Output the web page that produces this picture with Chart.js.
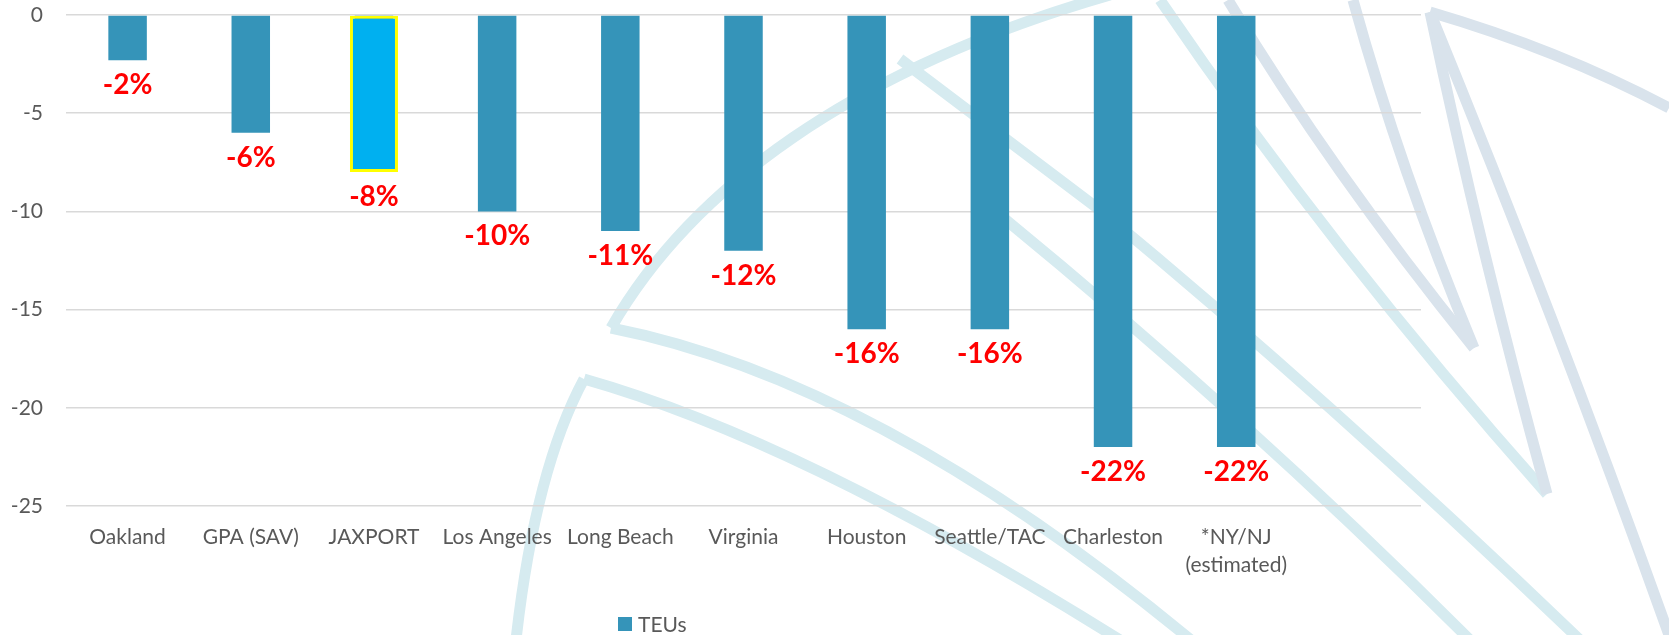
<!DOCTYPE html>
<html>
<head>
<meta charset="utf-8">
<script src="https://cdn.jsdelivr.net/npm/chart.js@4/dist/chart.umd.min.js"></script>
<style>
  body { margin: 0; background: #fff; }
  #wrap { position: relative; width: 1669px; height: 635px; }
  #legend { position: absolute; left: 618px; top: 611px; font: 21px Lato, sans-serif; color: #595959; display: flex; align-items: center; }
  #legend span.box { display: inline-block; width: 14px; height: 14px; background: #3594b9; margin-right: 6px; }
</style>
</head>
<body>
<div id="wrap">
  <canvas id="teuChart"></canvas>
  <div id="legend"><span class="box"></span><span>TEUs</span></div>
</div>
<script>
// Ports (the last slot is left empty, as in the original sheet)
const ports = ['Oakland', 'GPA (SAV)', 'JAXPORT', 'Los Angeles', 'Long Beach', 'Virginia',
               'Houston', 'Seattle/TAC', 'Charleston', ['*NY/NJ', '(estimated)'], ''];
// TEU change, percent
const teus = [-2.3, -6, -8, -10, -11, -12, -16, -16, -22, -22, null];
const highlightPort = 'JAXPORT';
const yTicks = [-25, -20, -15, -10, -5, 0];

const highlight = ports.map((p, i) => p === highlightPort ? teus[i] : null);

// light background swooshes behind the chart
const swooshes = [
    { c: '#d6ebf0', d: 'M516 640 Q535 470 584 379' },
    { c: '#d6ebf0', d: 'M584 379 Q800 440 1120 640' },
    { c: '#d6ebf0', d: 'M611 328 C690 190 850 70 1110 -5' },
    { c: '#d6ebf0', d: 'M611 328 Q900 385 1250 690' },
    { c: '#d6ebf0', d: 'M900 59 L1100 210 Q1330 400 1580 640' },
    { c: '#d6ebf0', d: 'M1000 215 Q1250 420 1470 640' },
    { c: '#d6ebf0', d: 'M1160 0 Q1330 250 1547 494' },
    { c: '#d9e3ec', d: 'M1228 0 Q1330 170 1474 348' },
    { c: '#d9e3ec', d: 'M1353 0 Q1400 170 1474 348' },
    { c: '#d9e3ec', d: 'M1430 12 Q1480 250 1547 494' },
    { c: '#d9e3ec', d: 'M1430 12 Q1560 50 1669 108' },
    { c: '#d9e3ec', d: 'M1430 12 Q1560 330 1669 635' }
];

const backdrop = {
    id: 'backdrop',
    beforeDraw(chart) {
        const ctx = chart.ctx;
        ctx.save();
        ctx.lineWidth = 11;
        swooshes.forEach(s => {
            ctx.strokeStyle = s.c;
            ctx.stroke(new Path2D(s.d));
        });
        ctx.restore();
    }
};

// red percentage labels under each bar
const valueLabels = {
    id: 'valueLabels',
    afterDatasetsDraw(chart) {
        const ctx = chart.ctx;
        const meta = chart.getDatasetMeta(0);
        ctx.save();
        ctx.fillStyle = '#ff0000';
        ctx.font = 'bold 28px Lato, sans-serif';
        ctx.textAlign = 'center';
        ctx.textBaseline = 'alphabetic';
        meta.data.forEach((bar, i) => {
            if (teus[i] === null) return;
            ctx.fillText(Math.round(teus[i]) + '%', bar.x, bar.y + 34);
        });
        ctx.restore();
    }
};

const ctx = document.getElementById('teuChart').getContext('2d');
const teuChart = new Chart(ctx, {
    type: 'bar',
    data: {
        labels: ports,
        datasets: [{
            label: 'TEUs',
            data: teus,
            backgroundColor: '#3594b9',
            categoryPercentage: 1,
            barPercentage: 0.3125,
            grouped: false,
            order: 1
        }, {
            label: 'highlight',
            data: highlight,
            backgroundColor: '#00b0f0',
            borderColor: '#ffff00',
            borderWidth: 3,
            borderSkipped: false,
            categoryPercentage: 1,
            barPercentage: 0.39,
            grouped: false,
            order: 0
        }]
    },
    options: {
        responsive: true,
        maintainAspectRatio: false,
        animation: false,
        layout: { padding: { top: 15, right: 248, left: 0, bottom: 0 } },
        plugins: {
            legend: { display: false },
            tooltip: { enabled: false }
        },
        scales: {
            x: {
                grid: { display: false },
                border: { display: false },
                ticks: {
                    color: '#595959',
                    font: { family: 'Lato', size: 21, lineHeight: 1.35 },
                    maxRotation: 0,
                    autoSkip: false,
                    padding: 9
                },
                afterFit(scale) { scale.height = 129; }
            },
            y: {
                min: -25,
                max: 0,
                afterBuildTicks(scale) { scale.ticks = yTicks.map(v => ({ value: v })); },
                grid: { color: '#d9d9d9', lineWidth: 1.5, drawTicks: false },
                border: { display: false },
                ticks: {
                    color: '#595959',
                    font: { family: 'Lato', size: 21 },
                    padding: 23
                },
                afterFit(scale) {
                    scale.width = 66;
                    scale.paddingTop = 0;
                    scale.paddingBottom = 0;
                }
            }
        }
    },
    plugins: [backdrop, valueLabels]
});
</script>
</body>
</html>
